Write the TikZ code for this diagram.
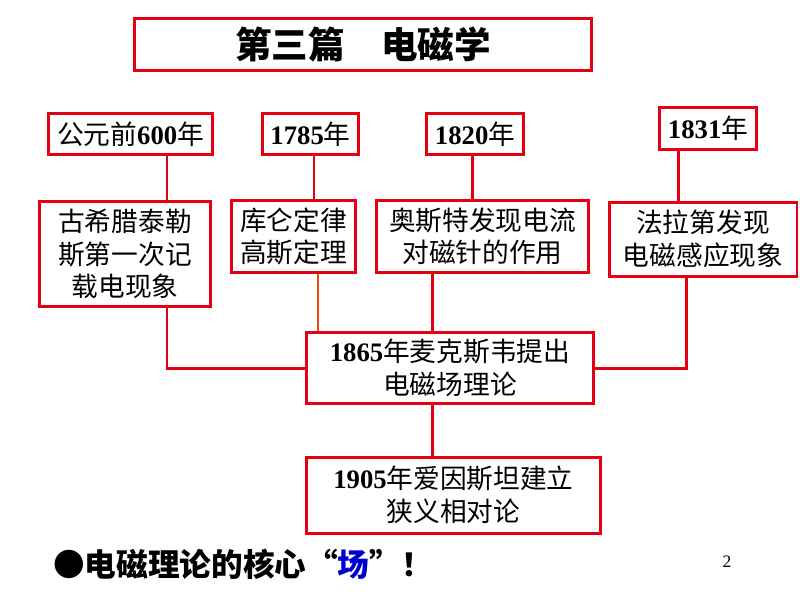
\documentclass[tikz,border=0pt]{standalone}
\usepackage{fontspec}
\setmainfont{Liberation Serif}
\newfontfamily\cjk{Noto Sans CJK SC}
\usetikzlibrary{positioning,shapes}
\definecolor{linered}{RGB}{228,0,18}
\definecolor{lineorange}{RGB}{240,70,20}
\definecolor{fieldblue}{RGB}{0,0,205}
\newcommand{\yr}[1]{{\normalfont\bfseries #1}}

\begin{document}
\begin{tikzpicture}[%
        x=0.02cm, y=-0.02cm,
        event/.style={%
          rectangle,
          draw=linered,
          line width=1.7pt,
          align=center,
          inner sep=0pt,
          font=\cjk\fontsize{15.2}{18.5}\selectfont
        },
        wire/.style={draw=linered, line width=1.7pt},
        wireb/.style={draw=lineorange, line width=1.5pt}
      ]
      \fill[white] (0,0) rectangle (800,600);
      \useasboundingbox (0,0) rectangle (800,600);

      % title
      \node[event, minimum width=9.14cm, minimum height=1.04cm,
        font=\cjk\bfseries\fontsize{20.8}{24}\selectfont] (0) at (363,44.5) {第三篇\quad 电磁学};

      % years
      \node[event, minimum width=3.28cm, minimum height=0.82cm] (1) at (130.5,134) {公元前\yr{600}年};
      \node[event, minimum width=1.92cm, minimum height=0.82cm] (2) at (310.5,134) {\yr{1785}年};
      \node[event, minimum width=1.94cm, minimum height=0.82cm] (3) at (475,134) {\yr{1820}年};
      \node[event, minimum width=1.94cm, minimum height=0.84cm] (4) at (708,128.5) {\yr{1831}年};

      % discoveries
      \node[event, minimum width=3.42cm, minimum height=2.1cm] (5) at (125,254) {古希腊泰勒\\斯第一次记\\载电现象};
      \node[event, minimum width=2.48cm, minimum height=1.44cm] (6) at (293.5,236.5) {库仑定律\\高斯定理};
      \node[event, minimum width=4.24cm, minimum height=1.44cm] (7) at (482.5,236.5) {奥斯特发现电流\\对磁针的作用};
      \node[event, minimum width=3.76cm, minimum height=1.48cm] (8) at (703,239) {法拉第发现\\电磁感应现象};

      \node[event, minimum width=5.74cm, minimum height=1.42cm] (9) at (450,368) {\yr{1865}年麦克斯韦提出\\电磁场理论};
      \node[event, minimum width=5.88cm, minimum height=1.52cm] (10) at (453.5,495) {\yr{1905}年爱因斯坦建立\\狭义相对论};

      % trunk positions
      \coordinate (a) at (167,0);
      \coordinate (b1) at (314,0);
      \coordinate (b2) at (318,0);
      \coordinate (c1) at (472,0);
      \coordinate (c2) at (432,0);
      \coordinate (d1) at (678,0);
      \coordinate (d2) at (686,0);

      \draw[wire] (1.south -| a) -- (5.north -| a);
      \draw[wire] (2.south -| b1) -- (6.north -| b1);
      \draw[wire] (3.south -| c1) -- (7.north -| c1);
      \draw[wire] (4.south -| d1) -- (8.north -| d1);
      \draw[wire] (5.south -| a) |- (9.west);
      \draw[wireb] (6.south -| b2) -- (9.north -| b2);
      \draw[wire] (7.south -| c2) -- (9.north -| c2);
      \draw[wire] (8.south -| d2) |- (9.east);
      \draw[wire] (9.south -| c2) -- (10.north -| c2);

      % footer
      \node[anchor=west, inner sep=0pt, font=\cjk\bfseries\fontsize{18}{22}\selectfont] (11) at (53,564)
        {●电磁理论的核心“\textcolor{fieldblue}{场}”！};
      \node[inner sep=0pt, font=\fontsize{10}{12}\selectfont] (12) at (727,562) {2};
    \end{tikzpicture}
\end{document}
